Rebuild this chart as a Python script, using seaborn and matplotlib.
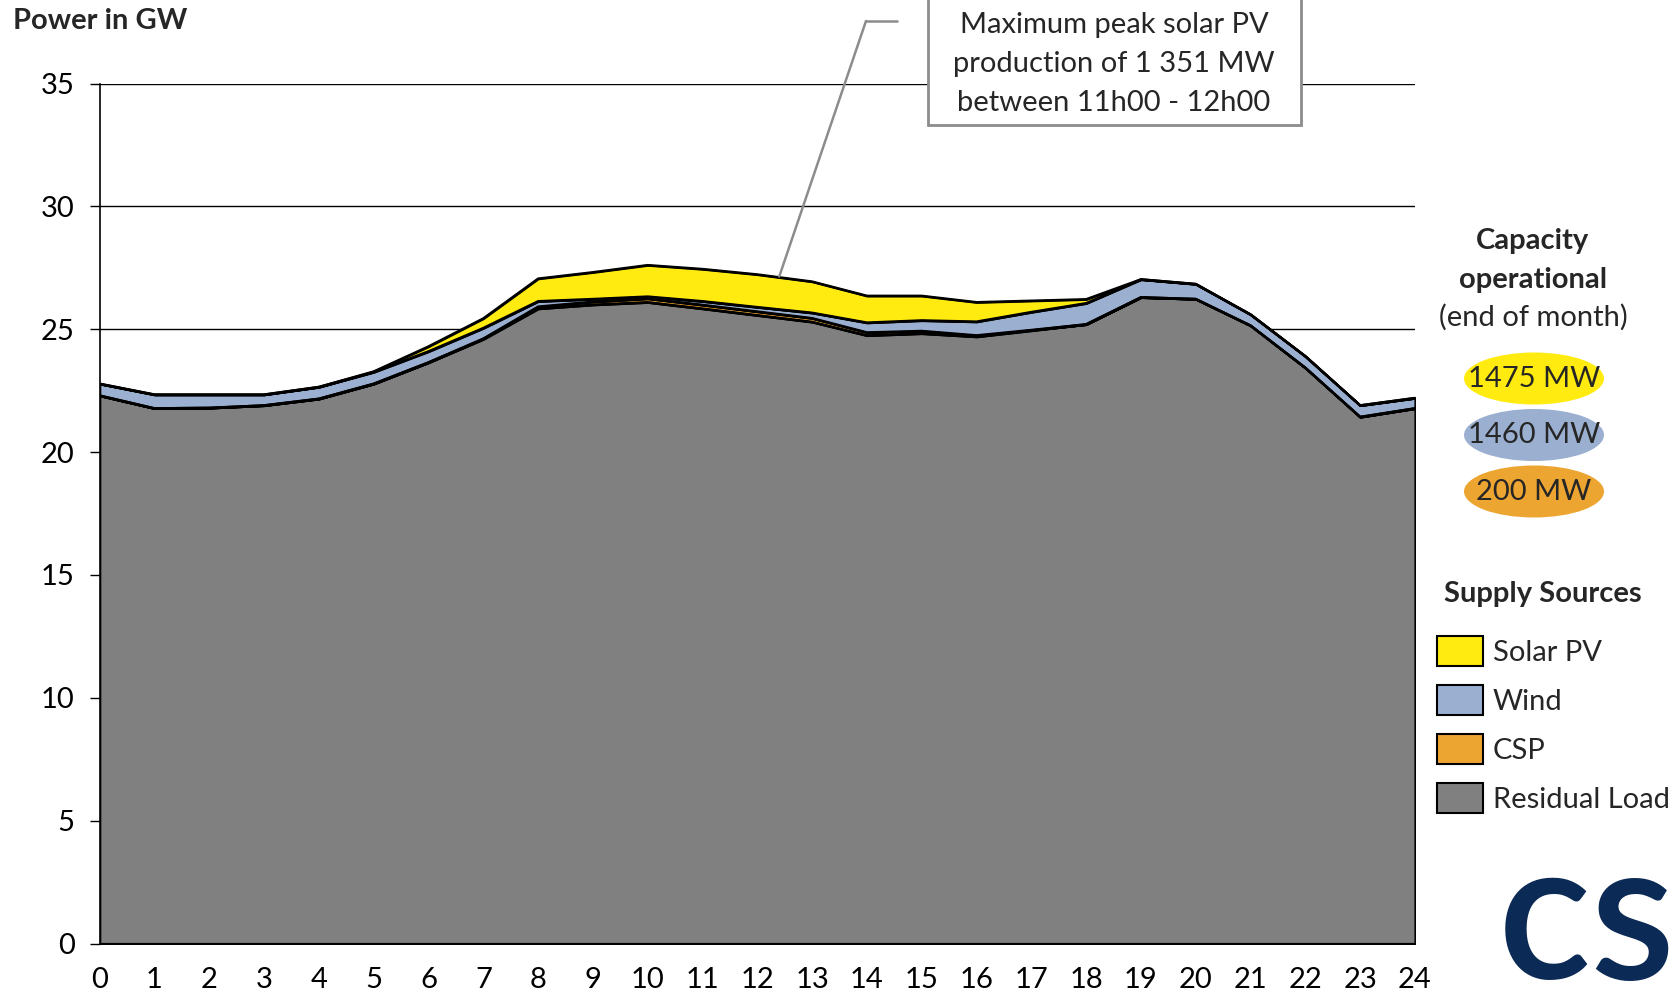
import numpy as np
import pandas as pd
import seaborn as sns
import matplotlib.pyplot as plt
from matplotlib.patches import Ellipse, Rectangle, Patch

hours = list(range(25))
residual = [22.30, 21.78, 21.80, 21.90, 22.17, 22.78, 23.65, 24.60, 25.84, 26.00, 26.10, 25.84, 25.57,
            25.30, 24.75, 24.83, 24.70, 24.95, 25.20, 26.30, 26.23, 25.15, 23.43, 21.43, 21.78]
csp = [0, 0, 0, 0, 0, 0, 0, 0.02, 0.08, 0.12, 0.15, 0.15, 0.15,
       0.15, 0.12, 0.10, 0.05, 0.02, 0, 0, 0, 0, 0, 0, 0]
wind = [0.48, 0.56, 0.54, 0.44, 0.48, 0.48, 0.45, 0.43, 0.22, 0.11, 0.08, 0.15, 0.18,
        0.22, 0.40, 0.43, 0.56, 0.73, 0.86, 0.73, 0.61, 0.45, 0.47, 0.47, 0.42]
solar = [0, 0, 0, 0, 0, 0.02, 0.20, 0.39, 0.92, 1.09, 1.28, 1.31, 1.33,
         1.27, 1.09, 1.00, 0.79, 0.46, 0.16, 0, 0, 0, 0, 0, 0]

series_names = ['Residual Load', 'CSP', 'Wind', 'Solar PV']
series_colors = ['#808080', '#EDA532', '#9BB0D0', '#FFEB0F']
capacity_labels = ['1475 MW', '1460 MW', '200 MW']
capacity_colors = ['#FFEB0F', '#9BB0D0', '#EDA532']
yticks = [0, 5, 10, 15, 20, 25, 30, 35]

sns.set_theme(style='white')
plt.rcParams['font.family'] = ['Lato', 'DejaVu Sans']
fs = 21

df = pd.DataFrame({'hour': hours, 'Residual Load': residual, 'CSP': csp, 'Wind': wind, 'Solar PV': solar})
# cumulative tops for the outline lines
cum = df[series_names].cumsum(axis=1)
cum['hour'] = df['hour']

W, H = 1681, 994
fig = plt.figure(figsize=(W / 100, H / 100), dpi=100)
ax = fig.add_axes([99.7 / W, 1 - 943.5 / H, (1415 - 99.7) / W, (943.5 - 83.6) / H])

ax.stackplot(df['hour'], [df[n] for n in series_names], colors=series_colors,
             edgecolor='black', linewidth=1.6, zorder=2)
for n in series_names:
    sns.lineplot(data=cum, x='hour', y=n, color='black', linewidth=1.8, ax=ax, zorder=3)

ax.set_xlim(0, 24)
ax.set_ylim(0, 35)
ax.set_xticks(hours)
ax.set_yticks(yticks)
ax.set_xlabel('')
ax.set_ylabel('')
ax.yaxis.grid(True, color='black', linewidth=1.0)
ax.xaxis.grid(False)
ax.set_axisbelow(True)
for s in ['top', 'right']:
    ax.spines[s].set_visible(False)
for s in ['left', 'bottom']:
    ax.spines[s].set_color('black')
    ax.spines[s].set_linewidth(1.2)
    ax.spines[s].set_zorder(4)
ax.tick_params(axis='y', which='major', left=True, length=7, width=1, color='black',
               direction='out', pad=11, labelsize=fs, labelcolor='black')
ax.tick_params(axis='x', which='major', bottom=False, length=0, pad=17, labelsize=fs, labelcolor='black')

fig.text(13 / W, 1 - 21 / H, 'Power in GW', fontsize=fs, fontweight='bold', ha='left', va='center')

# annotation box (cut at top of figure)
box = Rectangle((928 / W, 1 - 125 / H), (1301 - 928) / W, 0.2, transform=fig.transFigure,
                facecolor='white', edgecolor='#8C8C8C', linewidth=2, zorder=5)
fig.add_artist(box)
for i, line in enumerate(['Maximum peak solar PV', 'production of 1 351 MW', 'between 11h00 - 12h00']):
    fig.text(1114 / W, 1 - (25 + 39 * i) / H, line, fontsize=fs, ha='center', va='center', zorder=6)
ax.annotate('', xy=(12.4, 27.15), xycoords='data', xytext=(866 / W, 1 - 21 / H),
            textcoords='figure fraction',
            arrowprops=dict(arrowstyle='-', color='#8C8C8C', lw=1.8, shrinkA=0, shrinkB=0))
fig.add_artist(plt.Line2D([866 / W, 897 / W], [1 - 21 / H, 1 - 21 / H], transform=fig.transFigure,
                          color='#8C8C8C', linewidth=1.8))

# capacity panel
fig.text(1533 / W, 1 - 241 / H, 'Capacity', fontsize=fs, fontweight='bold', ha='center', va='center')
fig.text(1533 / W, 1 - 280 / H, 'operational', fontsize=fs, fontweight='bold', ha='center', va='center')
fig.text(1533 / W, 1 - 317 / H, '(end of month)', fontsize=fs, ha='center', va='center')
for i, (lab, col) in enumerate(zip(capacity_labels, capacity_colors)):
    cy = 1 - (378.5 + 56.5 * i) / H
    fig.add_artist(Ellipse((1534 / W, cy), 140 / W, 52 / H, transform=fig.transFigure,
                           facecolor=col, edgecolor='none'))
    fig.text(1534 / W, cy, lab, fontsize=fs, ha='center', va='center')

# supply sources legend
fig.text(1444 / W, 1 - 594 / H, 'Supply Sources', fontsize=fs, fontweight='bold', ha='left', va='center')
handles = [Patch(facecolor=c, edgecolor='black', linewidth=1.5, label=n)
           for n, c in zip(series_names[::-1], series_colors[::-1])]
fig.legend(handles=handles, loc='upper left', bbox_to_anchor=(1437.5 / W, 1 - 636 / H),
           frameon=False, fontsize=fs, handlelength=1.55, handleheight=1.2,
           labelspacing=0.66, handletextpad=0.35, borderpad=0, borderaxespad=0)

# logo (cut at the right edge, as in the original)
fig.text(1498 / W, 1 - 979 / H, 'csi', fontsize=140, fontweight='semibold', color='#0B2A56',
         family=['Lato', 'DejaVu Sans'], ha='left', va='baseline')

fig.savefig('out.png', dpi=100)
